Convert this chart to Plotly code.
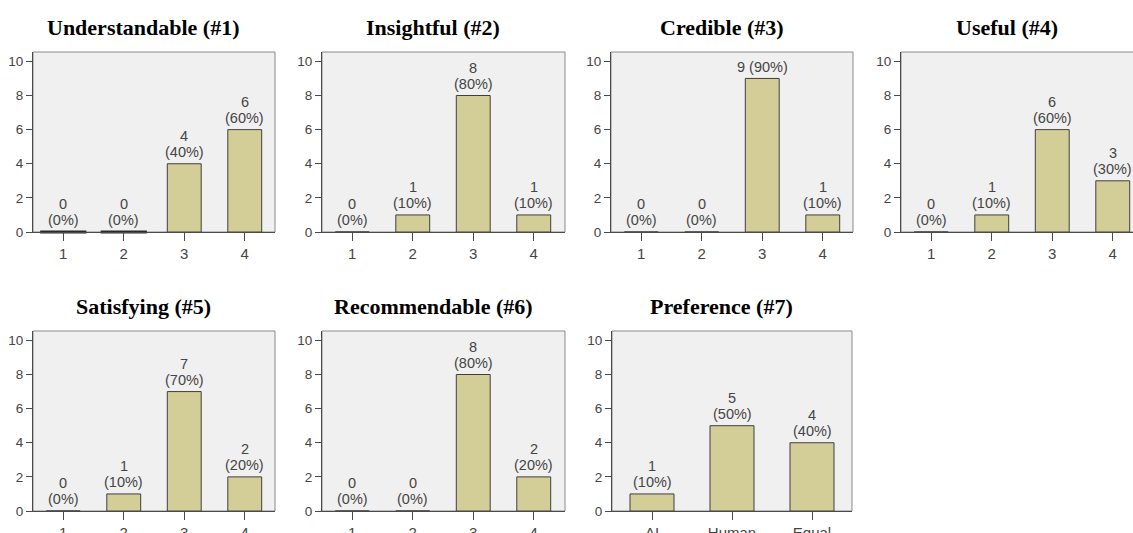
import plotly.graph_objects as go

# ---------------- data ----------------
titles = ["Understandable (#1)", "Insightful (#2)", "Credible (#3)", "Useful (#4)",
          "Satisfying (#5)", "Recommendable (#6)", "Preference (#7)"]
likert_categories = ["1", "2", "3", "4"]
preference_categories = ["AI", "Human", "Equal"]

understandable = [0, 0, 4, 6]
insightful = [0, 1, 8, 1]
credible = [0, 0, 9, 1]
useful = [0, 1, 6, 3]
satisfying = [0, 1, 7, 2]
recommendable = [0, 0, 8, 2]
preference = [1, 5, 4]

series = [understandable, insightful, credible, useful, satisfying, recommendable, preference]
categories = [likert_categories] * 6 + [preference_categories]

# ---------------- styling / layout ----------------
W, H = 1133, 533
BAR_FILL = "#d3ce97"
BAR_LINE = "#3f3f3f"
PLOT_BG = "#f0f0f0"
AXIS_COLOR = "#4a4a4a"
FRAME_COLOR = "#8a8a8a"
TEXT_COLOR = "#454545"
SANS = "Liberation Sans, Arial, sans-serif"
SERIF = "Liberation Serif, Times New Roman, serif"

# pixel boxes of each plot area (left, right, top, bottom)
boxes = [
    (33, 275, 52, 232), (322, 565, 52, 232), (611, 853, 52, 232), (901, 1133, 52, 232),
    (33, 275, 331, 511), (322, 565, 331, 511), (612, 852, 331, 511),
]
zero_outlined_panels = {0}   # panel whose zero-height bars show a dark base line

fig = go.Figure()
annotations = []
shapes = []

for i, (title, vals, cats) in enumerate(zip(titles, series, categories)):
    k = i + 1
    xa = "x" if k == 1 else f"x{k}"
    ya = "y" if k == 1 else f"y{k}"
    xname = "xaxis" if k == 1 else f"xaxis{k}"
    yname = "yaxis" if k == 1 else f"yaxis{k}"
    left, right, top, bottom = boxes[i]
    total = sum(vals)
    ncat = len(cats)
    width = 0.56 if ncat == 4 else 0.55

    fig.add_trace(go.Bar(
        x=cats, y=vals, xaxis=xa, yaxis=ya, width=width,
        marker=dict(color=BAR_FILL, line=dict(color=BAR_LINE, width=1)),
        hoverinfo="x+y",
    ))

    if i in zero_outlined_panels:
        zx = [c for c, v in zip(cats, vals) if v == 0]
        zy = [v for v in vals if v == 0]
        fig.add_trace(go.Scatter(
            x=zx, y=zy, xaxis=xa, yaxis=ya, mode="markers",
            marker=dict(symbol="line-ew", size=33, line=dict(color="#2a2a2a", width=3)),
            hoverinfo="skip", cliponaxis=False,
        ))

    # x range: panel 4 is cut at the right edge of the picture
    px_per_cat = 60.5 if ncat == 4 else 80.0
    x_max = -0.5 + (right - left) / px_per_cat

    fig.update_layout({
        xname: dict(
            domain=[left / W, right / W], anchor=ya, type="category",
            range=[-0.5, x_max], showline=True, linecolor=AXIS_COLOR, linewidth=1,
            ticks="outside", ticklen=8, tickcolor=AXIS_COLOR, tickwidth=1,
            automargin=False,
            tickfont=dict(family=SANS, size=15, color=TEXT_COLOR),
            showgrid=False, zeroline=False, fixedrange=True,
        ),
        yname: dict(
            domain=[1 - bottom / H, 1 - top / H], anchor=xa,
            range=[0, 10.55], tickvals=[0, 2, 4, 6, 8, 10],
            showline=True, linecolor=AXIS_COLOR, linewidth=1,
            ticks="outside", ticklen=6, tickcolor=AXIS_COLOR, tickwidth=1,
            automargin=False,
            tickfont=dict(family=SANS, size=13.5, color=TEXT_COLOR),
            showgrid=False, zeroline=False, fixedrange=True,
        ),
    })

    # frame around plot area
    shapes.append(dict(
        type="rect", xref=f"{xa} domain", yref=f"{ya} domain",
        x0=0, x1=1 if i != 3 else 1.05, y0=0, y1=1,
        line=dict(color=FRAME_COLOR, width=1), fillcolor=PLOT_BG, layer="below",
    ))

    # title
    annotations.append(dict(
        text=f"<b>{title}</b>", xref=f"{xa} domain", yref=f"{ya} domain",
        x=0.457, y=1, xanchor="center", yanchor="bottom", yshift=10,
        showarrow=False, font=dict(family=SERIF, size=22, color="black"),
    ))

    # value labels (annotation x on a category axis = category index)
    for j, v in enumerate(vals):
        pct = f"({round(100 * v / total)}%)"
        if v >= 9:
            annotations.append(dict(
                text=f"{v} {pct}", x=j, y=v, xref=xa, yref=ya,
                xanchor="center", yanchor="bottom", yshift=1, showarrow=False,
                font=dict(family=SANS, size=14.5, color=TEXT_COLOR),
            ))
        else:
            annotations.append(dict(
                text=pct, x=j, y=v, xref=xa, yref=ya,
                xanchor="center", yanchor="bottom", yshift=2, showarrow=False,
                font=dict(family=SANS, size=14.5, color=TEXT_COLOR),
            ))
            annotations.append(dict(
                text=str(v), x=j, y=v, xref=xa, yref=ya,
                xanchor="center", yanchor="bottom", yshift=18, showarrow=False,
                font=dict(family=SANS, size=14.5, color=TEXT_COLOR),
            ))

fig.update_layout(
    width=W, height=H, margin=dict(l=0, r=0, t=0, b=0, autoexpand=False),
    paper_bgcolor="white", plot_bgcolor="rgba(0,0,0,0)",
    showlegend=False,
    annotations=annotations, shapes=shapes,
)

page_fix = (
    "document.documentElement.style.margin='0';"
    "document.documentElement.style.overflow='hidden';"
    "document.body.style.margin='0';"
    "document.body.style.overflow='hidden';"
    f"document.body.style.height='{H}px';"
    "var gd=document.getElementById('{plot_id}');"
    f"gd.parentElement.style.height='{H}px';"
    "gd.parentElement.style.overflow='hidden';"
    "gd.parentElement.style.lineHeight='0';"
)

fig.write_html("out.html", config={"displayModeBar": False}, post_script=page_fix)
